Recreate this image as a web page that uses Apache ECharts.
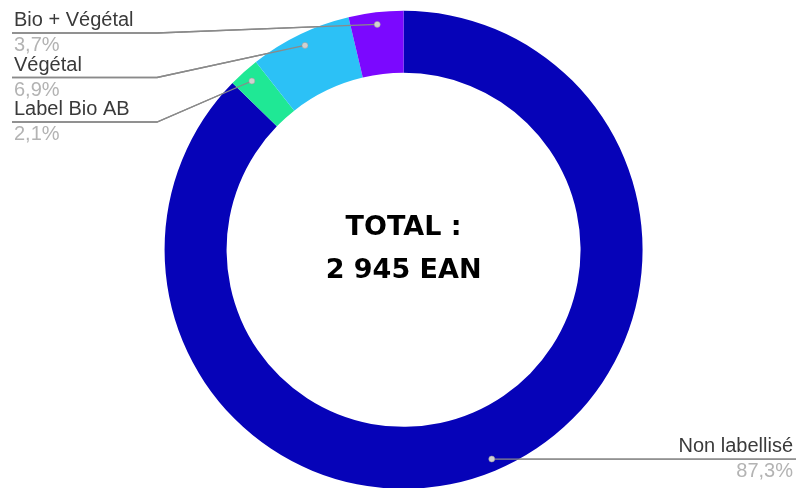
<!DOCTYPE html>
<html lang="fr">
<head>
    <meta charset="UTF-8">
    <title>Répartition des EAN</title>
    <script src="https://cdn.jsdelivr.net/npm/echarts@6/dist/echarts.min.js"></script>
    <style>
        html, body { margin: 0; padding: 0; background: #fff; }
        #pic { width: 796px; height: 488px; }
    </style>
</head>
<body>
    <div id="pic"></div>
    <script>
        // données (ordre horaire depuis midi)
        var names = ['Non labellisé', 'Label Bio AB', 'Végétal', 'Bio + Végétal'];
        var shares = [87.3, 2.1, 6.9, 3.7];
        var colors = ['#0603b8', '#1fe895', '#2cc1f6', '#7b08ff'];
        var totalEan = 2945;

        var lineColor = '#8a8a8a';
        var myChart = echarts.init(document.getElementById('pic'));
        var dots = [];

        function pct(v) {
            return v.toFixed(1).replace('.', ',') + '%';
        }

        var pieData = names.map(function (n, i) {
            return { name: n, value: shares[i], itemStyle: { color: colors[i] } };
        });

        var option = {
            animation: false,
            series: [{
                type: 'pie',
                center: ['50.7%', '51.2%'],
                radius: [177, 239],
                startAngle: 90,
                clockwise: true,
                avoidLabelOverlap: false,
                data: pieData,
                label: {
                    show: true,
                    position: 'outside',
                    formatter: function (p) {
                        return '{n|' + p.name + '}\n{p|' + pct(p.value) + '}';
                    },
                    rich: {
                        n: { fontFamily: 'Liberation Sans', fontSize: 20, color: '#3a3a3a', lineHeight: 25 },
                        p: { fontFamily: 'Liberation Sans', fontSize: 20, color: '#b3b3b3', lineHeight: 25 }
                    }
                },
                labelLine: {
                    show: true,
                    length: 10,
                    length2: 10,
                    lineStyle: { color: lineColor, width: 1.3 }
                },
                labelLayout: function (params) {
                    var i = params.dataIndex;
                    var pts = params.labelLinePoints;
                    var dx = pts[1][0] - pts[0][0], dy = pts[1][1] - pts[0][1];
                    var len = Math.sqrt(dx * dx + dy * dy) || 1;
                    var edge = [pts[0][0], pts[0][1]];
                    // le trait part d'un point à l'intérieur de l'anneau
                    var start = [edge[0] - dx / len * 12, edge[1] - dy / len * 12];
                    var W = myChart.getWidth();
                    var y, path;
                    if (start[0] > W / 2) {
                        y = start[1];
                        path = [start, [start[0] + 20, y], [W, y]];
                        dots[i] = path;
                        return {
                            x: W - 3, y: y, align: 'right', verticalAlign: 'middle',
                            labelLinePoints: path
                        };
                    }
                    var rank = names.length - 1 - i;
                    y = 33 + rank * 44.5;
                    path = [start, [157, y], [12, y]];
                    dots[i] = path;
                    return {
                        x: 14, y: y, align: 'left', verticalAlign: 'middle',
                        labelLinePoints: path
                    };
                }
            }]
        };

        myChart.setOption(option);

        var totalTxt = String(totalEan).replace(/\B(?=(\d{3})+(?!\d))/g, ' ');
        var graphics = [{
            type: 'text',
            x: myChart.getWidth() * 0.507,
            y: myChart.getHeight() * 0.512,
            style: {
                text: 'TOTAL :\n' + totalTxt + ' EAN',
                align: 'center',
                verticalAlign: 'middle',
                fontFamily: 'DejaVu Sans',
                fontWeight: 'bold',
                fontSize: 27,
                lineHeight: 43,
                fill: '#000'
            }
        }];
        // partie du trait au-dessus de l'anneau + point
        dots.forEach(function (path) {
            graphics.push({
                type: 'polyline',
                shape: { points: path },
                style: { stroke: lineColor, lineWidth: 1.3, fill: null },
                z: 99
            });
            graphics.push({
                type: 'circle',
                shape: { cx: path[0][0], cy: path[0][1], r: 3 },
                style: { fill: '#d0d0d0', stroke: '#9a9a9a', lineWidth: 0.5 },
                z: 100
            });
        });
        myChart.setOption({ graphic: graphics });
    </script>
</body>
</html>
